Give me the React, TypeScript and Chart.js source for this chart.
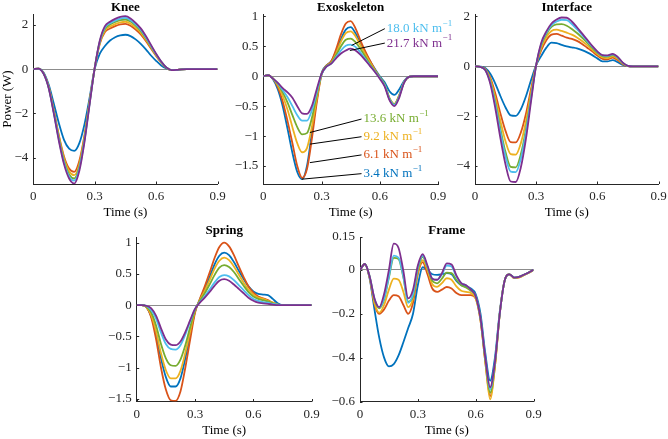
import React, { useEffect, useRef } from "react";
import { Chart, registerables } from "chart.js";

Chart.register(...registerables);

const FAMILY = "'Liberation Serif', 'Times New Roman', serif";
const AXIS_COLOR = "#262626";
const ZERO_COLOR = "#8c8c8c";

// ---------- data ----------
const TIME = [0, 0.025, 0.05, 0.075, 0.1, 0.125, 0.15, 0.175, 0.2, 0.225, 0.25, 0.275, 0.3, 0.325, 0.35, 0.375, 0.4, 0.425, 0.45, 0.475, 0.5, 0.525, 0.55, 0.575, 0.6, 0.625, 0.65, 0.675, 0.7, 0.725, 0.75, 0.775, 0.8, 0.825, 0.85, 0.875, 0.9];
const X_TICKS = [0, 0.3, 0.6, 0.9];
const STIFFNESS = ["3.4", "6.1", "9.2", "13.6", "18.0", "21.7"];
const COLORS = ["#0072BD", "#D95319", "#EDB120", "#77AC30", "#4DBEEE", "#7E2F8E"];

// Knee power (W)
const KNEE_3_4 = [0, 0.03, -0.15, -0.7, -1.55, -2.45, -3.2, -3.6, -3.7, -3.35, -2.5, -1.3, 0.02, 0.7, 1.05, 1.3, 1.45, 1.53, 1.56, 1.5, 1.35, 1.15, 0.9, 0.62, 0.38, 0.17, 0.03, -0.04, -0.03, -0.01, 0, 0, 0, 0, 0, 0, 0];
const KNEE_6_1 = [0, 0.03, -0.18, -0.8, -1.85, -3.0, -3.95, -4.5, -4.65, -4.15, -3.0, -1.45, 0.05, 1.15, 1.68, 1.84, 1.95, 2.03, 2.05, 1.97, 1.8, 1.58, 1.28, 0.94, 0.6, 0.3, 0.07, -0.04, -0.03, -0.01, 0, 0, 0, 0, 0, 0, 0];
const KNEE_9_2 = [0, 0.03, -0.19, -0.8, -1.9, -3.05, -4.05, -4.62, -4.8, -4.3, -3.08, -1.5, 0.05, 1.2, 1.75, 1.93, 2.04, 2.12, 2.15, 2.06, 1.88, 1.66, 1.34, 0.99, 0.63, 0.31, 0.07, -0.04, -0.03, -0.01, 0, 0, 0, 0, 0, 0, 0];
const KNEE_13_6 = [0, 0.03, -0.19, -0.82, -1.93, -3.13, -4.15, -4.77, -4.95, -4.42, -3.17, -1.54, 0.05, 1.24, 1.83, 2.02, 2.14, 2.22, 2.25, 2.16, 1.97, 1.73, 1.4, 1.03, 0.66, 0.33, 0.08, -0.04, -0.03, -0.01, 0, 0, 0, 0, 0, 0, 0];
const KNEE_18_0 = [0, 0.03, -0.2, -0.84, -1.97, -3.2, -4.22, -4.86, -5.05, -4.5, -3.23, -1.57, 0.05, 1.27, 1.89, 2.08, 2.2, 2.29, 2.32, 2.22, 2.03, 1.79, 1.45, 1.06, 0.68, 0.34, 0.08, -0.04, -0.03, -0.01, 0, 0, 0, 0, 0, 0, 0];
const KNEE_21_7 = [0, 0.03, -0.2, -0.85, -2.0, -3.25, -4.3, -4.95, -5.18, -4.6, -3.3, -1.6, 0.05, 1.3, 1.95, 2.15, 2.28, 2.37, 2.4, 2.3, 2.1, 1.85, 1.5, 1.1, 0.7, 0.35, 0.08, -0.04, -0.03, -0.01, 0, 0, 0, 0, 0, 0, 0];

// Exoskeleton power (W)
const EXO_3_4 = [0, 0.02, -0.05, -0.22, -0.5, -0.88, -1.28, -1.6, -1.72, -1.5, -0.95, -0.4, 0.05, 0.18, 0.25, 0.42, 0.62, 0.78, 0.82, 0.72, 0.55, 0.4, 0.25, 0.12, 0.0, -0.1, -0.25, -0.31, -0.22, -0.08, -0.01, 0, 0, 0, 0, 0, 0];
const EXO_6_1 = [0, 0.02, -0.04, -0.18, -0.42, -0.75, -1.12, -1.5, -1.7, -1.55, -1.05, -0.45, 0.03, 0.18, 0.25, 0.45, 0.7, 0.88, 0.92, 0.8, 0.6, 0.42, 0.26, 0.11, -0.02, -0.15, -0.38, -0.47, -0.32, -0.1, -0.01, 0, 0, 0, 0, 0, 0];
const EXO_9_2 = [0, 0.02, -0.04, -0.15, -0.33, -0.56, -0.85, -1.12, -1.27, -1.2, -0.85, -0.38, 0.03, 0.17, 0.23, 0.38, 0.58, 0.72, 0.75, 0.67, 0.52, 0.37, 0.23, 0.1, -0.02, -0.14, -0.36, -0.46, -0.32, -0.1, -0.01, 0, 0, 0, 0, 0, 0];
const EXO_13_6 = [0, 0.02, -0.04, -0.13, -0.27, -0.44, -0.65, -0.85, -0.97, -0.95, -0.7, -0.32, 0.03, 0.17, 0.22, 0.35, 0.5, 0.61, 0.63, 0.57, 0.46, 0.33, 0.2, 0.09, -0.02, -0.14, -0.37, -0.47, -0.33, -0.1, -0.01, 0, 0, 0, 0, 0, 0];
const EXO_18_0 = [0, 0.02, -0.04, -0.12, -0.23, -0.35, -0.5, -0.65, -0.74, -0.74, -0.57, -0.27, 0.03, 0.16, 0.21, 0.32, 0.43, 0.51, 0.53, 0.49, 0.4, 0.29, 0.18, 0.08, -0.03, -0.15, -0.38, -0.48, -0.34, -0.1, -0.01, 0, 0, 0, 0, 0, 0];
const EXO_21_7 = [0, 0.02, -0.04, -0.11, -0.2, -0.27, -0.36, -0.5, -0.62, -0.63, -0.5, -0.22, 0.04, 0.16, 0.21, 0.3, 0.38, 0.43, 0.46, 0.43, 0.36, 0.27, 0.17, 0.07, -0.04, -0.17, -0.4, -0.5, -0.36, -0.11, -0.01, 0, 0, 0, 0, 0, 0];

// Interface power (W)
const INT_3_4 = [0, -0.01, -0.07, -0.3, -0.7, -1.2, -1.65, -1.97, -1.99, -1.72, -1.2, -0.55, 0.05, 0.42, 0.75, 0.95, 0.93, 0.86, 0.8, 0.76, 0.72, 0.65, 0.56, 0.45, 0.32, 0.2, 0.2, 0.25, 0.17, 0.06, 0.01, 0, 0, 0, 0, 0, 0];
const INT_6_1 = [0, -0.02, -0.1, -0.45, -1.1, -1.9, -2.6, -3.04, -3.05, -2.65, -1.9, -0.9, 0.05, 0.65, 1.05, 1.27, 1.3, 1.23, 1.15, 1.1, 1.02, 0.9, 0.75, 0.6, 0.43, 0.3, 0.28, 0.35, 0.25, 0.09, 0.01, 0, 0, 0, 0, 0, 0];
const INT_9_2 = [0, -0.02, -0.12, -0.52, -1.28, -2.2, -3.02, -3.52, -3.54, -3.08, -2.2, -1.05, 0.05, 0.75, 1.18, 1.42, 1.47, 1.42, 1.35, 1.27, 1.16, 1.02, 0.85, 0.67, 0.49, 0.36, 0.33, 0.4, 0.3, 0.11, 0.01, 0, 0, 0, 0, 0, 0];
const INT_13_6 = [0, -0.02, -0.13, -0.6, -1.46, -2.52, -3.45, -4.03, -4.05, -3.52, -2.52, -1.2, 0.05, 0.85, 1.3, 1.58, 1.68, 1.69, 1.63, 1.5, 1.34, 1.15, 0.95, 0.74, 0.54, 0.41, 0.39, 0.45, 0.34, 0.13, 0.01, 0, 0, 0, 0, 0, 0];
const INT_18_0 = [0, -0.02, -0.14, -0.64, -1.55, -2.66, -3.63, -4.22, -4.24, -3.7, -2.65, -1.28, 0.05, 0.9, 1.35, 1.65, 1.8, 1.87, 1.85, 1.7, 1.49, 1.26, 1.02, 0.79, 0.58, 0.44, 0.42, 0.48, 0.36, 0.14, 0.02, 0, 0, 0, 0, 0, 0];
const INT_21_7 = [0, -0.02, -0.15, -0.7, -1.7, -2.9, -3.95, -4.62, -4.64, -4.05, -2.9, -1.4, 0.05, 0.95, 1.4, 1.72, 1.88, 1.96, 1.95, 1.8, 1.57, 1.32, 1.07, 0.82, 0.6, 0.45, 0.44, 0.5, 0.38, 0.15, 0.02, 0, 0, 0, 0, 0, 0];

// Spring power (W)
const SPR_3_4 = [0, 0, -0.03, -0.18, -0.47, -0.85, -1.15, -1.3, -1.3, -1.17, -0.85, -0.47, -0.1, 0.09, 0.26, 0.45, 0.65, 0.79, 0.84, 0.8, 0.69, 0.55, 0.42, 0.3, 0.22, 0.18, 0.17, 0.16, 0.1, 0.03, 0, 0, 0, 0, 0, 0, 0];
const SPR_6_1 = [0, 0, -0.03, -0.2, -0.55, -1.0, -1.35, -1.52, -1.53, -1.38, -1.0, -0.55, -0.12, 0.1, 0.3, 0.52, 0.75, 0.93, 1.0, 0.94, 0.8, 0.62, 0.45, 0.3, 0.2, 0.14, 0.11, 0.08, 0.04, 0.01, 0, 0, 0, 0, 0, 0, 0];
const SPR_9_2 = [0, 0, -0.03, -0.16, -0.42, -0.77, -1.04, -1.17, -1.17, -1.05, -0.76, -0.42, -0.09, 0.08, 0.23, 0.4, 0.58, 0.71, 0.76, 0.72, 0.62, 0.49, 0.36, 0.25, 0.17, 0.12, 0.1, 0.07, 0.04, 0.01, 0, 0, 0, 0, 0, 0, 0];
const SPR_13_6 = [0, 0, -0.02, -0.12, -0.33, -0.62, -0.85, -0.96, -0.97, -0.87, -0.64, -0.35, -0.08, 0.07, 0.19, 0.33, 0.48, 0.6, 0.64, 0.61, 0.53, 0.42, 0.31, 0.21, 0.14, 0.1, 0.08, 0.06, 0.03, 0.01, 0, 0, 0, 0, 0, 0, 0];
const SPR_18_0 = [0, 0, -0.01, -0.08, -0.22, -0.44, -0.62, -0.7, -0.71, -0.64, -0.47, -0.26, -0.06, 0.05, 0.14, 0.25, 0.36, 0.45, 0.48, 0.46, 0.4, 0.32, 0.24, 0.16, 0.1, 0.07, 0.05, 0.04, 0.02, 0.01, 0, 0, 0, 0, 0, 0, 0];
const SPR_21_7 = [0, 0, -0.01, -0.05, -0.17, -0.37, -0.55, -0.63, -0.64, -0.58, -0.43, -0.24, -0.06, 0.04, 0.12, 0.21, 0.31, 0.39, 0.415, 0.39, 0.33, 0.26, 0.19, 0.12, 0.07, 0.04, 0.03, 0.02, 0.01, 0, 0, 0, 0, 0, 0, 0, 0];

// Frame power (W)
const FRM_3_4 = [0, 0.027, -0.04, -0.18, -0.31, -0.4, -0.44, -0.43, -0.39, -0.33, -0.265, -0.2, -0.07, 0.012, 0.0, -0.02, -0.023, -0.02, -0.015, -0.02, -0.05, -0.07, -0.075, -0.085, -0.11, -0.2, -0.38, -0.505, -0.4, -0.19, -0.05, -0.02, -0.035, -0.032, -0.022, -0.012, 0];
const FRM_6_1 = [0, 0.027, -0.035, -0.155, -0.2, -0.18, -0.14, -0.115, -0.12, -0.16, -0.2, -0.15, -0.02, 0.035, -0.02, -0.085, -0.1, -0.09, -0.078, -0.085, -0.105, -0.115, -0.115, -0.115, -0.13, -0.23, -0.42, -0.575, -0.44, -0.2, -0.05, -0.02, -0.037, -0.034, -0.024, -0.013, 0];
const FRM_9_2 = [0, 0.027, -0.035, -0.15, -0.195, -0.16, -0.09, -0.04, -0.045, -0.1, -0.17, -0.13, -0.01, 0.045, 0.0, -0.065, -0.077, -0.06, -0.038, -0.045, -0.075, -0.095, -0.1, -0.105, -0.13, -0.23, -0.42, -0.59, -0.44, -0.2, -0.05, -0.02, -0.037, -0.034, -0.024, -0.013, 0];
const FRM_13_6 = [0, 0.027, -0.03, -0.135, -0.175, -0.135, -0.035, 0.055, 0.05, -0.035, -0.145, -0.12, 0.0, 0.06, 0.01, -0.05, -0.061, -0.04, -0.012, -0.015, -0.045, -0.07, -0.08, -0.095, -0.12, -0.22, -0.41, -0.56, -0.43, -0.2, -0.05, -0.02, -0.035, -0.032, -0.022, -0.012, 0];
const FRM_18_0 = [0, 0.027, -0.03, -0.13, -0.17, -0.13, -0.03, 0.065, 0.055, -0.03, -0.15, -0.11, 0.01, 0.065, 0.015, -0.04, -0.045, -0.02, 0.02, 0.015, -0.03, -0.06, -0.07, -0.09, -0.12, -0.22, -0.4, -0.545, -0.42, -0.2, -0.05, -0.02, -0.035, -0.032, -0.022, -0.012, 0];
const FRM_21_7 = [0, 0.027, -0.03, -0.13, -0.17, -0.11, 0.0, 0.12, 0.1, -0.005, -0.13, -0.09, 0.02, 0.072, 0.02, -0.04, -0.045, -0.015, 0.03, 0.025, -0.025, -0.06, -0.07, -0.09, -0.12, -0.22, -0.4, -0.535, -0.42, -0.2, -0.05, -0.02, -0.035, -0.032, -0.022, -0.012, 0];

// y tick values per panel
const KNEE_Y_TICKS = [-4, -2, 0, 2];
const EXO_Y_TICKS = [-1.5, -1, -0.5, 0, 0.5, 1];
const INT_Y_TICKS = [-4, -2, 0, 2];
const SPR_Y_TICKS = [-1.5, -1, -0.5, 0, 0.5, 1];
const FRM_Y_TICKS = [-0.6, -0.4, -0.2, 0, 0.15];

// ---------- layout / annotation config ----------
type Panel = {
  title: string;
  series: number[][];
  yMin: number;
  yMax: number;
  yTicks: number[];
  box: { left: number; top: number; w: number; h: number };
  axisW: number;
  axisH: number;
  padTop: number;
  padRight: number;
  xTitlePad: number;
  yTitle?: string;
  labels?: boolean;
};

const PANELS: Panel[] = [
  { title: "Knee", series: [KNEE_3_4, KNEE_6_1, KNEE_9_2, KNEE_13_6, KNEE_18_0, KNEE_21_7], yMin: -5.2, yMax: 2.5, yTicks: KNEE_Y_TICKS,
    box: { left: 0, top: 0, w: 240, h: 224 }, axisW: 33.3, axisH: 40, padTop: 14, padRight: 22.5, xTitlePad: 3.7, yTitle: "Power (W)" },
  { title: "Exoskeleton", series: [EXO_3_4, EXO_6_1, EXO_9_2, EXO_13_6, EXO_18_0, EXO_21_7], yMin: -1.8, yMax: 1.04, yTicks: EXO_Y_TICKS,
    box: { left: 233, top: 0, w: 235, h: 224 }, axisW: 30.3, axisH: 40, padTop: 14, padRight: 30, xTitlePad: 3.7, labels: true },
  { title: "Interface", series: [INT_3_4, INT_6_1, INT_9_2, INT_13_6, INT_18_0, INT_21_7], yMin: -4.72, yMax: 2.1, yTicks: INT_Y_TICKS,
    box: { left: 450, top: 0, w: 230, h: 224 }, axisW: 25, axisH: 40, padTop: 14, padRight: 21.5, xTitlePad: 3.7 },
  { title: "Spring", series: [SPR_3_4, SPR_6_1, SPR_9_2, SPR_13_6, SPR_18_0, SPR_21_7], yMin: -1.54, yMax: 1.09, yTicks: SPR_Y_TICKS,
    box: { left: 106, top: 223, w: 230, h: 216 }, axisW: 30.7, axisH: 37.5, padTop: 14, padRight: 24.3, xTitlePad: 0.7 },
  { title: "Frame", series: [FRM_3_4, FRM_6_1, FRM_9_2, FRM_13_6, FRM_18_0, FRM_21_7], yMin: -0.6, yMax: 0.15, yTicks: FRM_Y_TICKS,
    box: { left: 325, top: 223, w: 235, h: 216 }, axisW: 35, axisH: 37.5, padTop: 14, padRight: 26.5, xTitlePad: 0.7 },
];

// leader lines in the Exoskeleton panel (data coordinates)
const EXO_LABELS = [
  { series: 4, from: [0.455, 0.515], to: [0.626, 0.795] },
  { series: 5, from: [0.446, 0.43], to: [0.626, 0.554] },
  { series: 3, from: [0.24, -0.94], to: [0.506, -0.715] },
  { series: 2, from: [0.24, -1.134], to: [0.506, -1.01] },
  { series: 1, from: [0.24, -1.443], to: [0.506, -1.314] },
  { series: 0, from: [0.198, -1.72], to: [0.506, -1.627] },
];

const fmt = (v: number) => {
  const r = Math.round(v * 1000) / 1000;
  return r < 0 ? "\u2212" + String(-r) : String(r);
};

const titlePlugin = (text: string) => ({
  id: "panelTitle",
  afterDraw(chart: any) {
    const { ctx, chartArea } = chart;
    ctx.save();
    ctx.font = `bold 13px ${FAMILY}`;
    ctx.fillStyle = "#000";
    ctx.textAlign = "center";
    ctx.textBaseline = "alphabetic";
    ctx.fillText(text, (chartArea.left + chartArea.right) / 2, chartArea.top - 3.5);
    ctx.restore();
  },
});

const innerTicksPlugin = {
  id: "innerTicks",
  beforeDatasetsDraw(chart: any) {
    const { ctx, chartArea, scales } = chart;
    ctx.save();
    ctx.strokeStyle = AXIS_COLOR;
    ctx.lineWidth = 1;
    ctx.beginPath();
    for (const t of scales.x.ticks) {
      const px = Math.round(scales.x.getPixelForValue(t.value)) + 0.5;
      ctx.moveTo(px, chartArea.bottom);
      ctx.lineTo(px, chartArea.bottom - 2.5);
    }
    for (const t of scales.y.ticks) {
      const py = Math.round(scales.y.getPixelForValue(t.value)) + 0.5;
      ctx.moveTo(chartArea.left, py);
      ctx.lineTo(chartArea.left + 2.5, py);
    }
    ctx.stroke();
    ctx.restore();
  },
};

const exoLabelPlugin = {
  id: "exoLabels",
  afterDatasetsDraw(chart: any) {
    const { ctx, scales } = chart;
    const { x, y } = scales;
    ctx.save();
    for (const a of EXO_LABELS) {
      const x1 = x.getPixelForValue(a.from[0]);
      const y1 = y.getPixelForValue(a.from[1]);
      const x2 = x.getPixelForValue(a.to[0]);
      const y2 = y.getPixelForValue(a.to[1]);
      ctx.strokeStyle = "#000";
      ctx.lineWidth = 1;
      ctx.beginPath();
      ctx.moveTo(x1, y1);
      ctx.lineTo(x2, y2);
      ctx.stroke();
      const txt = `${STIFFNESS[a.series]} kN m`;
      ctx.fillStyle = COLORS[a.series];
      ctx.textAlign = "left";
      ctx.textBaseline = "middle";
      ctx.font = `13px ${FAMILY}`;
      ctx.fillText(txt, x2 + 2, y2);
      const w = ctx.measureText(txt).width;
      ctx.font = `9px ${FAMILY}`;
      ctx.fillText("\u22121", x2 + 2 + w + 0.5, y2 - 5);
    }
    ctx.restore();
  },
};

function PanelChart({ p }: { p: Panel }) {
  const ref = useRef<HTMLCanvasElement>(null);
  useEffect(() => {
    const canvas = ref.current;
    if (!canvas) return;
    const datasets = p.series
      .map((s, k) => ({
        label: `${STIFFNESS[k]} kN m\u207B\u00B9`,
        data: TIME.map((t, i) => ({ x: t, y: s[i] })),
        borderColor: COLORS[k],
        backgroundColor: COLORS[k],
        borderWidth: 1.8,
        pointRadius: 0,
        fill: false,
        cubicInterpolationMode: "monotone" as const,
      }))
      .reverse();
    const tickFont = { family: FAMILY, size: 13 };
    const plugins: any[] = [titlePlugin(p.title), innerTicksPlugin];
    if (p.labels) plugins.push(exoLabelPlugin);
    const chart = new Chart(canvas, {
      type: "line",
      data: { datasets },
      options: {
        animation: false,
        responsive: false,
        devicePixelRatio: 1,
        events: [],
        layout: { padding: { top: p.padTop, right: p.padRight, bottom: 0, left: 0 } },
        plugins: { legend: { display: false }, tooltip: { enabled: false }, title: { display: false } },
        scales: {
          x: {
            type: "linear",
            min: 0,
            max: 0.9,
            afterBuildTicks: (s: any) => {
              s.ticks = X_TICKS.map((v) => ({ value: v }));
            },
            afterFit: (s: any) => {
              s.height = p.axisH;
            },
            grid: { display: true, drawOnChartArea: false, drawTicks: false, color: "rgba(0,0,0,0)" },
            border: { display: true, color: AXIS_COLOR, width: 1 },
            ticks: { padding: 5, color: AXIS_COLOR, font: tickFont, maxRotation: 0, autoSkip: false, callback: (v: any) => fmt(Number(v)) },
            title: { display: true, text: "Time (s)", color: "#000", font: tickFont, padding: { top: 0, bottom: p.xTitlePad } },
          },
          y: {
            type: "linear",
            min: p.yMin,
            max: p.yMax,
            afterBuildTicks: (s: any) => {
              s.ticks = p.yTicks.map((v) => ({ value: v }));
            },
            afterFit: (s: any) => {
              s.width = p.axisW;
            },
            grid: {
              display: true,
              drawOnChartArea: true,
              drawTicks: false,
              lineWidth: 1,
              color: (c: any) => (c.tick && Math.abs(c.tick.value) < 1e-9 ? ZERO_COLOR : "rgba(0,0,0,0)"),
            },
            border: { display: true, color: AXIS_COLOR, width: 1 },
            ticks: { padding: 5, color: AXIS_COLOR, font: tickFont, autoSkip: false, callback: (v: any) => fmt(Number(v)) },
            title: p.yTitle
              ? { display: true, text: p.yTitle, color: "#000", font: tickFont, padding: { top: 0, bottom: 0 } }
              : { display: false },
          },
        },
      } as any,
      plugins,
    });
    return () => chart.destroy();
  }, [p]);
  return (
    <canvas
      ref={ref}
      width={p.box.w}
      height={p.box.h}
      style={{ position: "absolute", left: p.box.left, top: p.box.top, width: p.box.w, height: p.box.h }}
    />
  );
}

export default function App() {
  return (
    <div style={{ position: "fixed", left: 0, top: 0, width: 668, height: 439, background: "#fff", overflow: "hidden" }}>
      {PANELS.map((p) => (
        <PanelChart key={p.title} p={p} />
      ))}
    </div>
  );
}
